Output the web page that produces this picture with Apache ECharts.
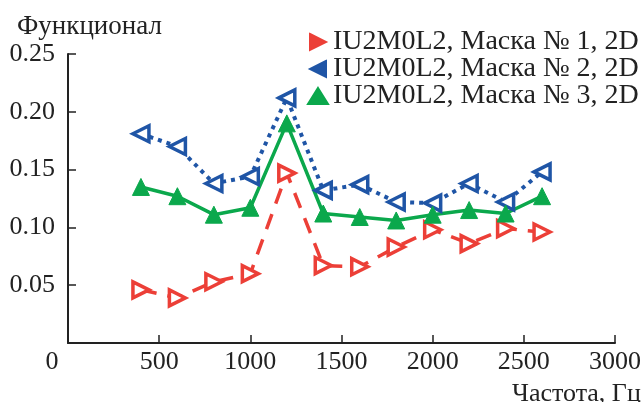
<!DOCTYPE html>
<html><head><meta charset="utf-8">
<script src="https://cdn.jsdelivr.net/npm/echarts@6/dist/echarts.min.js"></script>
<style>html,body{margin:0;padding:0;background:#fff}#c{width:644px;height:402px}</style>
</head><body><div id="c"></div>
<script>
const freq = [400, 600, 800, 1000, 1200, 1400, 1600, 1800, 2000, 2200, 2400, 2600];
const mask1 = [0.046, 0.039, 0.053, 0.060, 0.147, 0.067, 0.066, 0.083, 0.098, 0.086, 0.099, 0.096];
const mask2 = [0.181, 0.170, 0.138, 0.144, 0.212, 0.132, 0.137, 0.122, 0.121, 0.138, 0.122, 0.148];
const mask3 = [0.135, 0.127, 0.111, 0.117, 0.190, 0.112, 0.109, 0.106, 0.111, 0.115, 0.112, 0.127];
const names = ['IU2M0L2, Маска № 1, 2D', 'IU2M0L2, Маска № 2, 2D', 'IU2M0L2, Маска № 3, 2D'];
const xTicks = [0, 500, 1000, 1500, 2000, 2500, 3000];
const yTicks = [0.05, 0.10, 0.15, 0.20, 0.25];

const RED = '#ec3f37', BLUE = '#1f55a6', GREEN = '#0ba84c';
const font = 'Liberation Serif';
const pairs = a => freq.map((f, i) => [f, a[i]]);

const chart = echarts.init(document.getElementById('c'));
chart.setOption({
  animation: false,
  textStyle: { fontFamily: font },
  grid: { left: 68, right: 28, top: 54, bottom: 59 },
  title: [
    { text: 'Функционал', left: 12, top: 8, textStyle: { fontFamily: font, fontSize: 27, fontWeight: 'normal', color: '#222' } },
    { text: 'Частота, Гц', left: 507, top: 376, textStyle: { fontFamily: font, fontSize: 26, fontWeight: 'normal', color: '#222' } }
  ],
  legend: {
    orient: 'vertical', left: 302, top: 23, itemGap: -1, itemWidth: 20, itemHeight: 16,
    textStyle: { fontFamily: font, fontSize: 28, color: '#222' },
    data: [
      { name: names[0], icon: 'path://M0,0L10,5L0,10Z', itemStyle: { color: RED } },
      { name: names[1], icon: 'path://M10,0L0,5L10,10Z', itemStyle: { color: BLUE } },
      { name: names[2], icon: 'triangle', itemStyle: { color: GREEN } }
    ]
  },
  xAxis: {
    type: 'value', min: 0, max: 3000, interval: 500,
    axisLine: { lineStyle: { color: '#222', width: 2 } },
    axisTick: { inside: true, length: 8, lineStyle: { color: '#222', width: 1.5 } },
    splitLine: { show: false },
    axisLabel: {
      fontFamily: font, fontSize: 26, color: '#222', margin: 6,
      formatter: v => xTicks.includes(v) ? (v === 0 ? '{z|0}' : String(v)) : '',
      rich: { z: { fontFamily: font, fontSize: 26, color: '#222', padding: [0, 32, 0, 0] } }
    }
  },
  yAxis: {
    type: 'value', min: 0, max: 0.25, interval: 0.05,
    axisLine: { show: true, lineStyle: { color: '#222', width: 2 } },
    axisTick: { show: true, inside: true, length: 8, lineStyle: { color: '#222', width: 1.5 } },
    splitLine: { show: false },
    axisLabel: {
      showMinLabel: false, fontFamily: font, fontSize: 26, color: '#222', margin: 13,
      formatter: v => yTicks.some(t => Math.abs(t - v) < 1e-9) ? v.toFixed(2) : ''
    }
  },
  series: [
    { name: names[0], type: 'line', data: pairs(mask1), symbol: 'triangle', symbolSize: 16, symbolRotate: -90,
      lineStyle: { color: RED, width: 3.5, type: [16, 11] },
      itemStyle: { color: '#fff', borderColor: RED, borderWidth: 3.5 } },
    { name: names[1], type: 'line', data: pairs(mask2), symbol: 'triangle', symbolSize: 16, symbolRotate: 90,
      lineStyle: { color: BLUE, width: 4, type: [4, 5] },
      itemStyle: { color: '#fff', borderColor: BLUE, borderWidth: 3.5 } },
    { name: names[2], type: 'line', data: pairs(mask3), symbol: 'triangle', symbolSize: 17,
      lineStyle: { color: GREEN, width: 3.5 },
      itemStyle: { color: GREEN, borderColor: GREEN, borderWidth: 1 } }
  ]
});
</script></body></html>
